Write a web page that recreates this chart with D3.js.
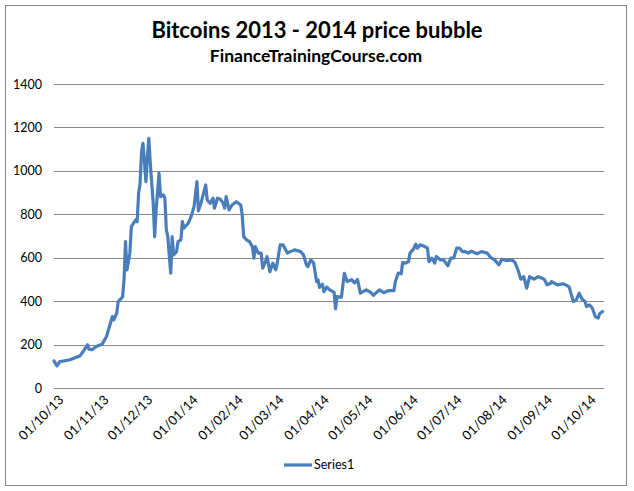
<!DOCTYPE html>
<html><head><meta charset="utf-8">
<script src="https://cdn.jsdelivr.net/npm/d3@7"></script>
<style>
html,body{margin:0;padding:0;background:#fff;}
svg{display:block;font-family:Lato,"Open Sans",sans-serif;}
</style></head>
<body><svg id="c" width="634" height="491"></svg>
<script>
const titleText = "Bitcoins 2013 - 2014 price bubble";
const subtitleText = "FinanceTrainingCourse.com";
const seriesName = "Series1";
const yTicks = [0, 200, 400, 600, 800, 1000, 1200, 1400];
const xTickDates = ["2013-10-01","2013-11-01","2013-12-01","2014-01-01","2014-02-01","2014-03-01","2014-04-01","2014-05-01","2014-06-01","2014-07-01","2014-08-01","2014-09-01","2014-10-01"];
const dates = ["2013-10-01","2013-10-03","2013-10-05","2013-10-08","2013-10-12","2013-10-15","2013-10-19","2013-10-21","2013-10-24","2013-10-25","2013-10-27","2013-10-30",
"2013-11-03","2013-11-06","2013-11-08","2013-11-10","2013-11-11","2013-11-13","2013-11-14","2013-11-17","2013-11-18","2013-11-19","2013-11-20","2013-11-22","2013-11-23","2013-11-26","2013-11-27","2013-11-28","2013-11-29","2013-11-30",
"2013-12-01","2013-12-03","2013-12-04","2013-12-05","2013-12-06","2013-12-08","2013-12-09","2013-12-10","2013-12-12","2013-12-13","2013-12-15","2013-12-16","2013-12-17","2013-12-18","2013-12-20","2013-12-21","2013-12-22","2013-12-24","2013-12-25","2013-12-27","2013-12-28","2013-12-29",
"2014-01-01","2014-01-03","2014-01-05","2014-01-07","2014-01-08","2014-01-10","2014-01-13","2014-01-14","2014-01-16","2014-01-18","2014-01-19","2014-01-21","2014-01-23","2014-01-25","2014-01-26","2014-01-27","2014-01-29","2014-01-31",
"2014-02-03","2014-02-06","2014-02-07","2014-02-08","2014-02-10","2014-02-12","2014-02-14","2014-02-15","2014-02-16","2014-02-18","2014-02-20","2014-02-21","2014-02-23","2014-02-24","2014-02-26","2014-02-28",
"2014-03-02","2014-03-03","2014-03-05","2014-03-07","2014-03-10","2014-03-12","2014-03-15","2014-03-19","2014-03-21","2014-03-23","2014-03-24","2014-03-26","2014-03-28","2014-03-30","2014-03-31",
"2014-04-01","2014-04-03","2014-04-04","2014-04-06","2014-04-08","2014-04-11","2014-04-12","2014-04-13","2014-04-16","2014-04-18","2014-04-20","2014-04-23","2014-04-25","2014-04-27","2014-04-29",
"2014-05-03","2014-05-06","2014-05-08","2014-05-12","2014-05-15","2014-05-18","2014-05-22","2014-05-23","2014-05-25","2014-05-27","2014-05-28","2014-05-30",
"2014-06-01","2014-06-02","2014-06-04","2014-06-06","2014-06-07","2014-06-09","2014-06-11","2014-06-14","2014-06-15","2014-06-17","2014-06-19","2014-06-20","2014-06-23","2014-06-25","2014-06-28","2014-06-30",
"2014-07-02","2014-07-04","2014-07-06","2014-07-08","2014-07-10","2014-07-12","2014-07-14","2014-07-18","2014-07-21","2014-07-25","2014-07-27","2014-07-30",
"2014-08-02","2014-08-04","2014-08-07","2014-08-11","2014-08-13","2014-08-15","2014-08-17","2014-08-19","2014-08-21","2014-08-23","2014-08-26","2014-08-29",
"2014-09-02","2014-09-04","2014-09-06","2014-09-07","2014-09-11","2014-09-15","2014-09-19","2014-09-20","2014-09-22","2014-09-24","2014-09-26","2014-09-28","2014-09-30",
"2014-10-01","2014-10-03","2014-10-05","2014-10-07","2014-10-09","2014-10-10","2014-10-12"];
const prices = [125,102,122,125,130,138,149,168,199,179,176,191,
202,237,283,329,314,345,398,419,498,674,544,621,743,774,766,897,943,1088,
1127,950,1065,1150,1035,851,697,820,989,881,889,874,728,697,529,697,613,628,674,682,766,736,
759,789,835,950,816,858,935,866,851,874,828,874,869,851,828,881,820,843,
858,843,797,697,682,674,651,598,651,621,621,552,582,605,536,575,
544,575,659,659,621,628,636,628,613,567,559,590,575,490,498,
463,478,444,465,452,440,365,421,418,528,490,499,484,500,437,
452,440,427,452,439,448,448,490,529,526,578,575,
582,621,636,662,644,659,655,644,582,598,575,605,590,590,563,598,
598,644,644,628,628,621,630,618,628,621,603,590,
567,593,587,590,578,544,501,513,460,513,501,513,
501,475,480,490,475,480,467,444,398,406,437,409,398,
375,383,368,329,322,342,352];
const xDomain = ["2013-10-01","2014-10-13"];

const parse = d3.timeParse("%Y-%m-%d");
const fmt = d3.timeFormat("%d/%m/%y");
const data = dates.map((d,i)=>({date:parse(d), value:prices[i]}));

const svg = d3.select("#c");
const L = 54, R = 604, T = 84, B = 388;

svg.append("rect").attr("x",5.5).attr("y",5.5).attr("width",621).attr("height",480)
  .attr("fill","#fff").attr("stroke","#868686").attr("stroke-width",1);

svg.append("text").attr("x",317).attr("y",38).attr("text-anchor","middle")
  .attr("font-size",22).attr("font-weight","bold").attr("fill","#000").text(titleText);
svg.append("text").attr("x",316).attr("y",62).attr("text-anchor","middle")
  .attr("font-size",17.5).attr("font-weight","bold").attr("fill","#000").text(subtitleText);

const x = d3.scaleTime().domain(xDomain.map(parse)).range([L,R]);
const y = d3.scaleLinear().domain([0,1400]).range([B,T]);

// gridlines + y axis
const yAxis = d3.axisLeft(y).tickValues(yTicks).tickFormat(d3.format("d")).tickSize(-(R-L)).tickPadding(12);
const gy = svg.append("g").attr("transform",`translate(${L},0)`).call(yAxis);
gy.select(".domain").remove();
gy.selectAll(".tick line").attr("stroke","#868686").attr("shape-rendering","crispEdges");
gy.selectAll(".tick text").attr("font-size",12.5).attr("fill","#000").attr("font-family","Lato,sans-serif");

// x axis
const xAxis = d3.axisBottom(x).tickValues(xTickDates.map(parse)).tickFormat(fmt).tickSize(0);
const gx = svg.append("g").attr("transform",`translate(0,${B})`).call(xAxis);
gx.select(".domain").remove();
gx.selectAll(".tick text")
  .attr("font-size",13).attr("fill","#000").attr("font-family","Lato,sans-serif")
  .attr("text-anchor","end").attr("x",-2).attr("y",16).attr("dy",0)
  .attr("transform","rotate(-45)");

// line
const line = d3.line().x(d=>x(d.date)).y(d=>y(d.value)).curve(d3.curveLinear);
svg.append("path").datum(data).attr("d",line).attr("fill","none")
  .attr("stroke","#4a7ebb").attr("stroke-width",3.2).attr("stroke-linejoin","round").attr("stroke-linecap","round");

// legend
const lg = svg.append("g");
lg.append("line").attr("x1",284).attr("x2",312).attr("y1",465).attr("y2",465)
  .attr("stroke","#4a7ebb").attr("stroke-width",3.2);
lg.append("text").attr("x",314).attr("y",469).attr("font-size",12.5).attr("fill","#000").text(seriesName);
</script></body></html>
